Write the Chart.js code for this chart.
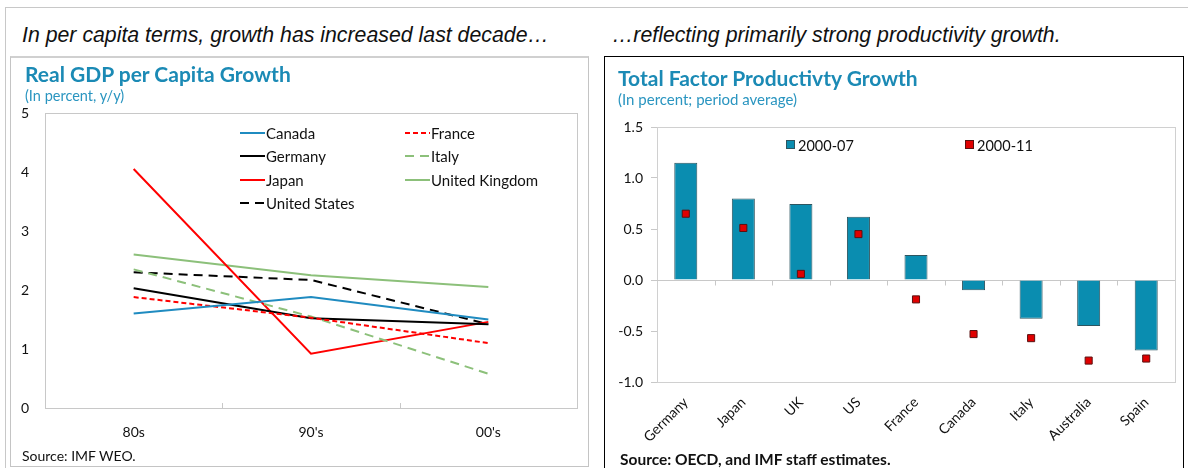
<!DOCTYPE html>
<html>
<head>
<meta charset="utf-8">
<script src="https://cdn.jsdelivr.net/npm/chart.js@4.4.1/dist/chart.umd.min.js"></script>
<style>
  html, body { margin: 0; padding: 0; background: #fff; }
  body { width: 1188px; height: 468px; position: relative; overflow: hidden; }
  .frameTop { position: absolute; left: 5px; top: 7px; width: 1183px; height: 0; border-top: 1px solid #c8c8c8; }
  .frameLeft { position: absolute; left: 5px; top: 7px; width: 0; height: 461px; border-left: 1px solid #c8c8c8; }
  .head { position: absolute; top: 23px; font-family: "Liberation Sans", Arial, sans-serif; font-style: italic; font-size: 21.3px; color: #111; white-space: nowrap; }
  .box { position: absolute; box-sizing: border-box; }
  #boxL { left: 10px; top: 56px; width: 579px; height: 411px; border: 1px solid #c4c4c4; border-width: 2px 1px 1px 1px; border-color: #d0d0d0 #c4c4c4 #c4c4c4 #c4c4c4; }
  #boxR { left: 604px; top: 56px; width: 580px; height: 414px; border: 1px solid #000; }
  .title { position: absolute; font-family: Lato, "Open Sans", sans-serif; font-weight: bold; font-size: 21px; color: #1b8ab5; white-space: nowrap; }
  .sub { position: absolute; font-family: Lato, "Open Sans", sans-serif; font-size: 15px; color: #2a95c0; white-space: nowrap; }
  .src { position: absolute; font-family: Lato, "Open Sans", sans-serif; font-size: 14px; color: #111; white-space: nowrap; }
  canvas { position: absolute; }
</style>
</head>
<body>
<div class="frameTop"></div>
<div class="frameLeft"></div>
<div class="head" style="left:22px;">In per capita terms, growth has increased last decade…</div>
<div class="head" style="left:612px;">…reflecting primarily strong productivity growth.</div>
<div class="box" id="boxL"></div>
<div class="box" id="boxR"></div>
<div style="position:absolute;left:11px;top:57px;width:576px;height:408px;">
  <canvas id="cL" width="576" height="408" style="left:0;top:0;"></canvas>
</div>
<div style="position:absolute;left:605px;top:57px;width:577px;height:411px;">
  <canvas id="cR" width="577" height="411" style="left:0;top:0;"></canvas>
</div>
<div class="title" style="left:25px;top:61px;">Real GDP per Capita Growth</div>
<div class="sub" style="left:25px;top:87px;font-size:14.5px;">(In percent, y/y)</div>
<div class="src" style="left:22px;top:447px;">Source: IMF WEO.</div>
<div class="title" style="left:618px;top:65px;">Total Factor Productivty Growth</div>
<div class="sub" style="left:618px;top:90px;">(In percent; period average)</div>
<div class="src" style="left:620px;top:450px;font-weight:bold;font-size:15.5px;">Source: OECD, and IMF staff estimates.</div>

<script>
// ---------- Left chart data ----------
const decades = ["80s", "90's", "00's"];
const canada  = [1.60, 1.88, 1.50];
const france  = [1.88, 1.53, 1.10];
const germany = [2.03, 1.52, 1.42];
const italy   = [2.35, 1.55, 0.58];
const japan   = [4.05, 0.92, 1.46];
const uk      = [2.60, 2.25, 2.05];
const us      = [2.30, 2.17, 1.42];
const gdpTicks = [0, 1, 2, 3, 4, 5];

// ---------- Right chart data ----------
const countries = ["Germany", "Japan", "UK", "US", "France", "Canada", "Italy", "Australia", "Spain"];
const tfp0007 = [1.15, 0.80, 0.745, 0.62, 0.245, -0.10, -0.38, -0.45, -0.69];
const tfp0011 = [0.65, 0.51, 0.06, 0.45, -0.19, -0.53, -0.57, -0.79, -0.77];
const tfpTicks = [-1.0, -0.5, 0.0, 0.5, 1.0, 1.5];

const FONT = "Lato, 'Open Sans', sans-serif";

const plotBorder = {
  id: 'plotBorder',
  beforeDatasetsDraw(chart, args, opts) {
    const {ctx, chartArea: a} = chart;
    ctx.save();
    ctx.strokeStyle = opts.color || '#c8c8c8';
    ctx.lineWidth = 1;
    ctx.strokeRect(Math.round(a.left) + 0.5, Math.round(a.top) + 0.5, Math.round(a.right - a.left), Math.round(a.bottom - a.top));
    ctx.restore();
  }
};

const customLegend = {
  id: 'customLegend',
  afterDraw(chart, args, opts) {
    if (!opts.items) return;
    const ctx = chart.ctx;
    ctx.save();
    ctx.font = opts.font;
    ctx.textBaseline = 'middle';
    opts.items.forEach(it => {
      const ds = chart.data.datasets[it.index];
      if (opts.kind === 'line') {
        ctx.beginPath();
        ctx.strokeStyle = ds.borderColor;
        ctx.lineWidth = 2;
        ctx.setLineDash(ds.borderDash || []);
        ctx.moveTo(it.x, it.y);
        ctx.lineTo(it.x + 25, it.y);
        ctx.stroke();
        ctx.setLineDash([]);
        ctx.fillStyle = '#111';
        ctx.fillText(ds.label, it.x + 26, it.y + 1);
      } else {
        ctx.fillStyle = ds.legendFill || ds.backgroundColor;
        ctx.strokeStyle = ds.legendStroke || '#333';
        ctx.lineWidth = 1;
        ctx.fillRect(it.x + 0.5, it.y - 4.5, 8, 8);
        ctx.strokeRect(it.x + 0.5, it.y - 4.5, 8, 8);
        ctx.fillStyle = '#111';
        ctx.fillText(ds.label, it.x + 12, it.y + 1);
      }
    });
    ctx.restore();
  }
};

const zeroAxis = {
  id: 'zeroAxis',
  beforeDatasetsDraw(chart) {
    const {ctx, chartArea: a, scales: {x, y}} = chart;
    const y0 = Math.round(y.getPixelForValue(0)) + 0.5;
    ctx.save();
    ctx.strokeStyle = '#c8c8c8';
    ctx.lineWidth = 1;
    ctx.beginPath();
    ctx.moveTo(a.left, y0);
    ctx.lineTo(a.right, y0);
    const n = x.getLabels().length;
    for (let i = 1; i < n; i++) {
      const px = Math.round(a.left + (a.right - a.left) * i / n) + 0.5;
      ctx.moveTo(px, y0);
      ctx.lineTo(px, y0 + 5);
    }
    ctx.stroke();
    ctx.restore();
  }
};

const innerTicks = {
  id: 'innerTicks',
  afterDatasetsDraw(chart) {
    const {ctx, chartArea: a, scales: {x}} = chart;
    const n = x.getLabels().length;
    ctx.save();
    ctx.strokeStyle = '#c8c8c8';
    ctx.lineWidth = 1;
    ctx.beginPath();
    for (let i = 1; i < n; i++) {
      const px = Math.round(a.left + (a.right - a.left) * i / n) + 0.5;
      ctx.moveTo(px, a.bottom);
      ctx.lineTo(px, a.bottom - 5);
    }
    ctx.stroke();
    ctx.restore();
  }
};

const mkLine = (label, data, color, dash) => ({
  label, data, borderColor: color, backgroundColor: color,
  borderWidth: 2, borderDash: dash || [], pointRadius: 0, tension: 0, fill: false
});

new Chart(document.getElementById('cL'), {
  type: 'line',
  data: {
    labels: decades,
    datasets: [
      mkLine('Canada', canada, '#1f8bc0'),
      mkLine('France', france, '#ff0000', [5, 3]),
      mkLine('Germany', germany, '#000000'),
      mkLine('Italy', italy, '#8cc07a', [9, 6]),
      mkLine('Japan', japan, '#ff0000'),
      mkLine('United Kingdom', uk, '#8cc07a'),
      mkLine('United States', us, '#000000', [9, 6])
    ]
  },
  options: {
    responsive: false,
    animation: false,
    layout: { padding: { left: 0, top: 56, right: 10, bottom: 0 } },
    plugins: {
      legend: { display: false },
      tooltip: { enabled: false },
      plotBorder: { color: '#c8c8c8' },
      customLegend: {
        kind: 'line',
        font: "15px " + FONT,
        items: [
          { index: 0, x: 229, y: 76 },
          { index: 1, x: 394, y: 76 },
          { index: 2, x: 229, y: 99 },
          { index: 3, x: 394, y: 99 },
          { index: 4, x: 229, y: 123 },
          { index: 5, x: 394, y: 123 },
          { index: 6, x: 229, y: 146 }
        ]
      }
    },
    scales: {
      x: {
        offset: true,
        grid: { display: false },
        border: { display: false },
        ticks: { font: { family: FONT, size: 14 }, color: '#111', padding: 8 },
        afterFit(s) { s.height = 57; }
      },
      y: {
        min: 0, max: 5,
        afterBuildTicks(s) { s.ticks = gdpTicks.map(v => ({ value: v })); },
        grid: { display: false },
        border: { display: false },
        ticks: { font: { family: FONT, size: 14 }, color: '#111', padding: 8 },
        afterFit(s) { s.width = 34; }
      }
    }
  },
  plugins: [plotBorder, innerTicks, customLegend]
});

new Chart(document.getElementById('cR'), {
  type: 'bar',
  data: {
    labels: countries,
    datasets: [
      {
        type: 'line',
        label: '2000-11',
        data: tfp0011,
        showLine: false,
        pointStyle: 'rect',
        pointRadius: 5,
        pointBackgroundColor: '#e00000',
        pointBorderColor: '#5a1010',
        pointBorderWidth: 1,
        backgroundColor: '#e00000',
        legendFill: '#e00000',
        legendStroke: '#5a1010',
        order: 0
      },
      {
        label: '2000-07',
        data: tfp0007,
        backgroundColor: '#0a8db0',
        borderColor: '#2d5560',
        borderWidth: 1,
        barPercentage: 0.8,
        categoryPercentage: 0.5,
        legendFill: '#0a8db0',
        legendStroke: '#2d5560',
        order: 1
      }
    ]
  },
  options: {
    responsive: false,
    animation: false,
    layout: { padding: { left: 0, top: 70, right: 7, bottom: 16 } },
    plugins: {
      legend: { display: false },
      tooltip: { enabled: false },
      plotBorder: { color: '#d0d0d0' },
      customLegend: {
        kind: 'box',
        font: "14.5px " + FONT,
        items: [
          { index: 1, x: 181, y: 88 },
          { index: 0, x: 360, y: 88 }
        ]
      }
    },
    scales: {
      x: {
        offset: true,
        grid: { display: false },
        border: { display: false },
        ticks: { font: { family: FONT, size: 14 }, color: '#111', maxRotation: 45, minRotation: 45, autoSkip: false, padding: 4 },
        afterFit(s) { s.height = 70; }
      },
      y: {
        min: -1, max: 1.5,
        afterBuildTicks(s) { s.ticks = tfpTicks.map(v => ({ value: v })); },
        grid: { display: true, drawOnChartArea: false, drawTicks: true, tickLength: 6, color: '#c8c8c8' },
        border: { display: false },
        ticks: { font: { family: FONT, size: 14 }, color: '#111', padding: 8, callback: v => v.toFixed(1) },
        afterFit(s) { s.width = 52; }
      }
    }
  },
  plugins: [plotBorder, zeroAxis, customLegend]
});
</script>
</body>
</html>
